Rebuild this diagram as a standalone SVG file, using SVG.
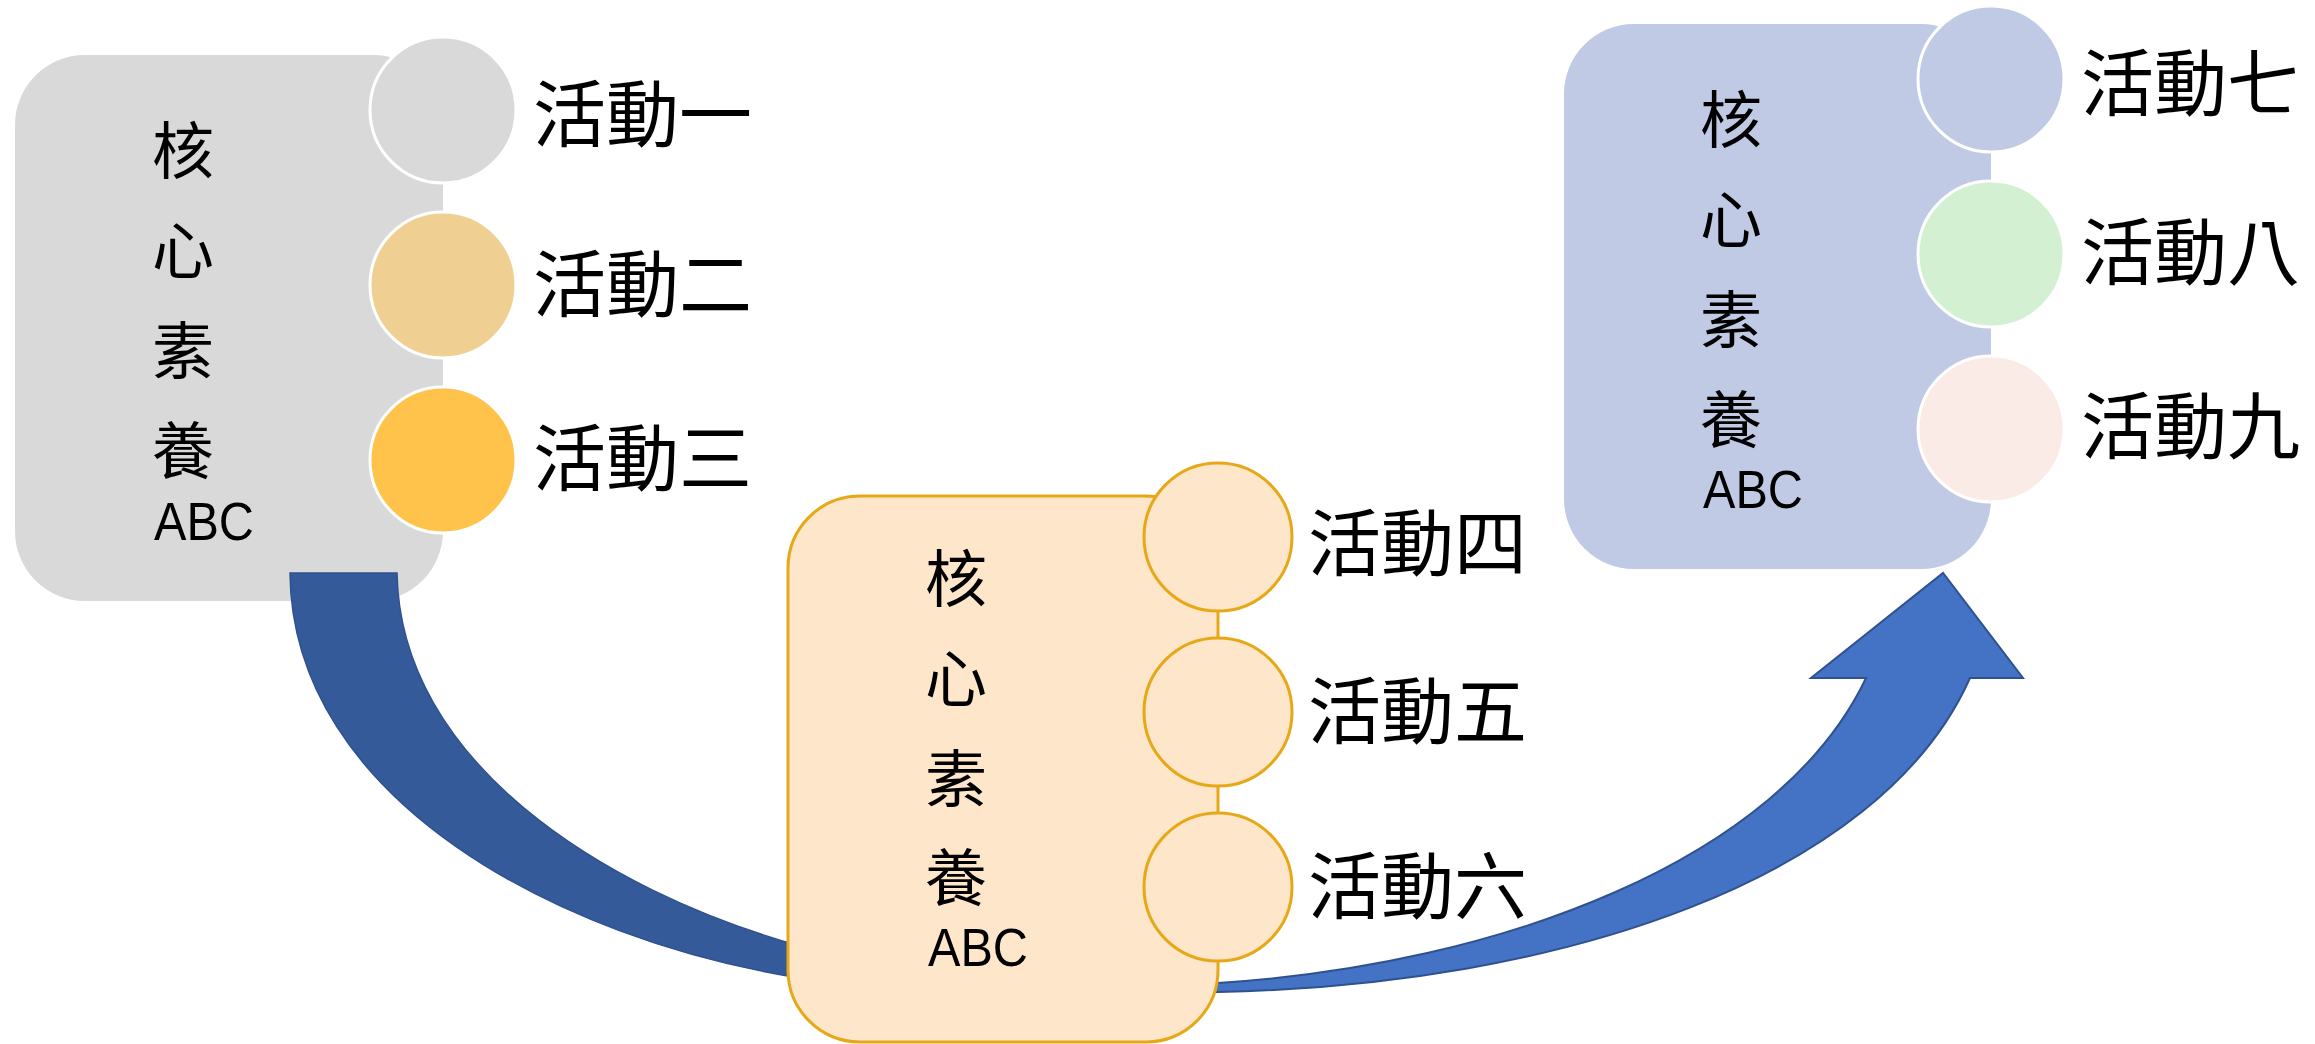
<svg xmlns="http://www.w3.org/2000/svg" width="2315" height="1044" viewBox="0 0 2315 1044">
<style>
.cjk{font-family:"Noto Sans CJK TC","Noto Sans CJK SC",sans-serif;fill:#000}
.core{font-size:62px;text-anchor:middle}
.act{font-size:73px}
.abc{font-family:"Liberation Sans",Arial,sans-serif;font-size:54px;fill:#000}
.wc{stroke:#FFFFFF;stroke-width:3}
.oc{fill:#FEE6CB;stroke:#E6A817;stroke-width:3}
</style>
<rect width="2315" height="1044" fill="#FFFFFF"/>
<g id="node-gray">
<rect x="15" y="55" width="428" height="546" rx="70" ry="70" fill="#D9D9D9"/>
<circle class="wc" cx="443" cy="110" r="73" fill="#D9D9D9"/>
<circle class="wc" cx="443" cy="285" r="73" fill="#EFD092"/>
<circle class="wc" cx="443" cy="460" r="73" fill="#FFC34B"/>
<text class="cjk core" x="183" y="174">核</text>
<text class="cjk core" x="183" y="274">心</text>
<text class="cjk core" x="183" y="374">素</text>
<text class="cjk core" x="183" y="474">養</text>
<text class="abc" x="154" y="540" textLength="100" lengthAdjust="spacingAndGlyphs">ABC</text>
<text class="cjk act" x="533" y="141">活動一</text>
<text class="cjk act" x="533" y="311">活動二</text>
<text class="cjk act" x="533" y="485">活動三</text>
</g>
<g id="connectors">
<path d="M290,573 L397,573 C400,760 600,890 800,946 L800,978 C560,940 292,800 290,573 Z" fill="#355A99" stroke="#2F528F" stroke-width="1.5"/>
<path d="M1200,984 L1218,983 C1500,965 1780,860 1866,678 L1811,678 L1943,573 L2023,678 L1970,678 C1880,880 1560,985 1218,992 L1200,993 Z" fill="#4472C4" stroke="#2F528F" stroke-width="2" stroke-linejoin="miter"/>
</g>
<g id="node-orange">
<rect class="oc" x="788" y="496" width="430" height="546" rx="72" ry="72"/>
<circle class="oc" cx="1218" cy="537" r="74"/>
<circle class="oc" cx="1218" cy="712" r="74"/>
<circle class="oc" cx="1218" cy="887" r="74"/>
<text class="cjk core" x="956" y="602">核</text>
<text class="cjk core" x="956" y="702">心</text>
<text class="cjk core" x="956" y="802">素</text>
<text class="cjk core" x="956" y="901">養</text>
<text class="abc" x="928" y="966" textLength="100" lengthAdjust="spacingAndGlyphs">ABC</text>
<text class="cjk act" x="1308" y="570">活動四</text>
<text class="cjk act" x="1308" y="738">活動五</text>
<text class="cjk act" x="1308" y="913">活動六</text>
</g>
<g id="node-blue">
<rect x="1564" y="24" width="427" height="545" rx="70" ry="70" fill="#C0CAE4"/>
<circle class="wc" cx="1991" cy="79" r="73" fill="#C0CAE4"/>
<circle class="wc" cx="1991" cy="254" r="73" fill="#D3F0D3"/>
<circle class="wc" cx="1991" cy="429" r="73" fill="#FBEBE7"/>
<text class="cjk core" x="1731" y="143">核</text>
<text class="cjk core" x="1731" y="243">心</text>
<text class="cjk core" x="1731" y="343">素</text>
<text class="cjk core" x="1731" y="443">養</text>
<text class="abc" x="1703" y="508" textLength="100" lengthAdjust="spacingAndGlyphs">ABC</text>
<text class="cjk act" x="2081" y="110">活動七</text>
<text class="cjk act" x="2081" y="279">活動八</text>
<text class="cjk act" x="2081" y="453">活動九</text>
</g>
</svg>
